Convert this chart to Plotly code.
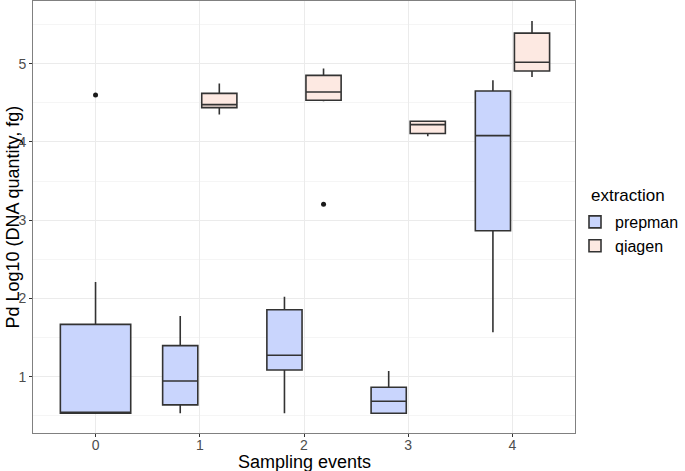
import plotly.graph_objects as go

# ---- data ----
events = [0, 1, 2, 3, 4]

prep_lower = [0.533, 0.533, 0.533, 0.533, 1.567]
prep_q1 = [0.533, 0.639, 1.085, 0.533, 2.864]
prep_median = [0.533, 0.945, 1.273, 0.686, 4.08]
prep_q3 = [1.668, 1.396, 1.855, 0.864, 4.65]
prep_upper = [2.21, 1.775, 2.02, 1.073, 4.787]
prep_outlier_x = [0]
prep_outlier_y = [4.60]

qia_events = [1, 2, 3, 4]
qia_lower = [4.349, 4.52, 4.072, 4.829]
qia_q1 = [4.438, 4.531, 4.106, 4.906]
qia_median = [4.476, 4.638, 4.22, 5.017]
qia_q3 = [4.62, 4.85, 4.263, 5.39]
qia_upper = [4.745, 4.936, 4.263, 5.544]
qia_outlier_x = [2]
qia_outlier_y = [3.204]

y_ticks = [1, 2, 3, 4, 5]

# ---- styling ----
PREP_FILL = "#C9D5FD"
QIA_FILL = "#FDE9E2"
EDGE = "#333333"
DODGE = 0.1875
W_PAIR = 0.3375
W_SINGLE = 0.675
FONT = "Liberation Sans, Arial, sans-serif"

fig = go.Figure()

qia_set = set(qia_events)

def box(name, xs, lo, q1, med, q3, hi, fill, width, showlegend):
    return go.Box(
        name=name, legendgroup=name, showlegend=showlegend,
        x=xs, lowerfence=lo, q1=q1, median=med, q3=q3, upperfence=hi,
        fillcolor=fill, line=dict(color=EDGE, width=1.6),
        whiskerwidth=0, width=width, boxpoints=False,
    )

single_idx = [i for i, e in enumerate(events) if e not in qia_set]
pair_idx = [i for i, e in enumerate(events) if e in qia_set]

def pick(arr, idx):
    return [arr[i] for i in idx]

fig.add_trace(box("prepman", [events[i] - DODGE for i in pair_idx],
                  pick(prep_lower, pair_idx), pick(prep_q1, pair_idx), pick(prep_median, pair_idx),
                  pick(prep_q3, pair_idx), pick(prep_upper, pair_idx), PREP_FILL, W_PAIR, True))
fig.add_trace(box("prepman", [events[i] for i in single_idx],
                  pick(prep_lower, single_idx), pick(prep_q1, single_idx), pick(prep_median, single_idx),
                  pick(prep_q3, single_idx), pick(prep_upper, single_idx), PREP_FILL, W_SINGLE, False))
fig.add_trace(box("qiagen", [e + DODGE for e in qia_events],
                  qia_lower, qia_q1, qia_median, qia_q3, qia_upper, QIA_FILL, W_PAIR, True))

# outliers
prep_out_pos = [x if x not in qia_set else x - DODGE for x in prep_outlier_x]
qia_out_pos = [x + DODGE for x in qia_outlier_x]
fig.add_trace(go.Scatter(x=prep_out_pos + qia_out_pos, y=prep_outlier_y + qia_outlier_y,
                         mode="markers", marker=dict(color="#1a1a1a", size=5),
                         showlegend=False, hoverinfo="skip"))

tickfont = dict(family=FONT, size=14, color="#4D4D4D")
fig.update_layout(
    width=685, height=471,
    margin=dict(l=33, r=109, t=1, b=38),
    plot_bgcolor="white", paper_bgcolor="white",
    boxmode="overlay",
    font=dict(family=FONT, color="black"),
    legend=dict(
        font=dict(size=16, color="black"),
        bgcolor="rgba(0,0,0,0)",
        xref="container", yref="container",
        x=575 / 685, xanchor="left", y=1 - 205 / 471, yanchor="top",
        tracegroupgap=0, itemwidth=30,
    ),
    xaxis=dict(
        range=[-0.6, 4.6], tickmode="array", tickvals=events, ticktext=[str(e) for e in events],
        showgrid=True, gridcolor="#EBEBEB", gridwidth=1, zeroline=False,
        showline=True, mirror=True, linecolor="#808080", linewidth=1,
        ticks="outside", ticklen=3, tickcolor="#333333", tickfont=tickfont,
        ticklabelstandoff=-4,
        automargin=False,
    ),
    yaxis=dict(
        range=[0.28, 5.80], tickmode="array", tickvals=y_ticks, ticktext=[str(t) for t in y_ticks],
        showgrid=True, gridcolor="#EBEBEB", gridwidth=1, zeroline=False,
        minor=dict(dtick=0.5, tick0=0.5, showgrid=True, gridcolor="#F5F5F5", gridwidth=0.8, ticks=""),
        showline=True, mirror=True, linecolor="#808080", linewidth=1,
        ticks="outside", ticklen=3, tickcolor="#333333", tickfont=tickfont,
        automargin=False,
    ),
    annotations=[
        dict(text="Sampling events", xref="paper", yref="paper", x=0.5, y=-28.5 / 432,
             xanchor="center", yanchor="middle", showarrow=False,
             font=dict(family=FONT, size=18, color="black")),
        dict(text="Pd Log10 (DNA quantity, fg)", xref="paper", yref="paper", x=-20.5 / 543, y=0.5,
             xanchor="center", yanchor="middle", showarrow=False, textangle=-90,
             font=dict(family=FONT, size=18, color="black")),
        dict(text="extraction", xref="paper", yref="paper", x=(590 - 33) / 543, y=(433 - 196) / 432,
             xanchor="left", yanchor="middle", showarrow=False,
             font=dict(family=FONT, size=17, color="black")),
    ],
)

fig.write_html("out.html", config={"displayModeBar": False},
               post_script="document.body.style.margin='0';")
